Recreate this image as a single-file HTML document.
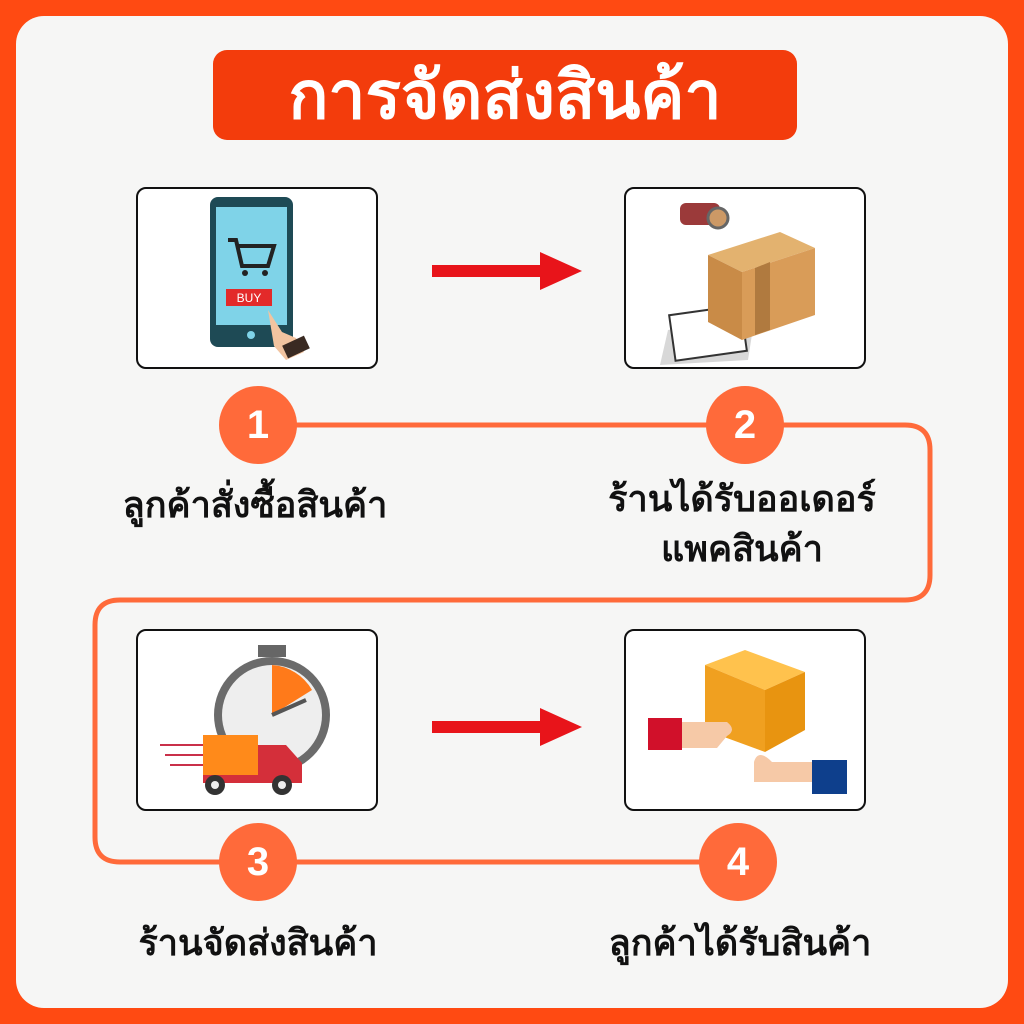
<!DOCTYPE html>
<html><head><meta charset="utf-8">
<style>
html,body{margin:0;padding:0;}
body{width:1024px;height:1024px;background:#FF4A12;position:relative;overflow:hidden;font-family:"Liberation Sans","DejaVu Sans",sans-serif;}
.panel{position:absolute;left:16px;top:16px;width:992px;height:992px;background:#F6F6F5;border-radius:28px;}
.title{position:absolute;left:213px;top:50px;width:584px;height:90px;background:#F33C0C;border-radius:14px;color:#fff;font-weight:bold;font-size:66px;text-align:center;line-height:90px;}
.box{position:absolute;width:238px;height:178px;border:2px solid #111;border-radius:10px;background:#fff;}
.circ{position:absolute;width:78px;height:78px;border-radius:50%;background:#FF6A3A;color:#fff;font-weight:bold;font-size:40px;text-align:center;line-height:78px;}
.lbl{position:absolute;width:400px;text-align:center;font-weight:bold;font-size:36px;color:#111;line-height:50px;}
svg{position:absolute;left:0;top:0;}
</style></head><body>
<div class="panel"></div>
<svg width="1024" height="1024">
<path d="M258 425 H905 Q930 425 930 450 V575 Q930 600 905 600 H120 Q95 600 95 625 V837 Q95 862 120 862 H738" fill="none" stroke="#FF6A3A" stroke-width="5"/>
</svg>
<div class="title">การจัดส่งสินค้า</div>
<div class="box" style="left:136px;top:187px"></div>
<div class="box" style="left:624px;top:187px"></div>
<div class="box" style="left:136px;top:629px"></div>
<div class="box" style="left:624px;top:629px"></div>
<svg width="1024" height="1024">
<rect x="432" y="265" width="115" height="12" fill="#E8141A"/>
<polygon points="540,252 582,271 540,290" fill="#E8141A"/>
<rect x="432" y="721" width="115" height="12" fill="#E8141A"/>
<polygon points="540,708 582,727 540,746" fill="#E8141A"/>
<rect x="210" y="197" width="83" height="150" rx="8" fill="#1E4A55"/>
<rect x="216" y="207" width="71" height="118" fill="#7FD3E8"/>
<path d="M228 240 h8 l6 26 h26 l6-20 h-36" fill="none" stroke="#222" stroke-width="4"/>
<circle cx="245" cy="273" r="3" fill="#222"/><circle cx="265" cy="273" r="3" fill="#222"/>
<rect x="226" y="289" width="46" height="17" fill="#E32A2A"/>
<text x="249" y="302" font-size="12" fill="#fff" text-anchor="middle" font-family="Liberation Sans">BUY</text>
<circle cx="251" cy="335" r="4" fill="#7FD3E8"/>
<path d="M268 310 l14 22 l14 6 l8 14 l-18 8 l-12 -14 z" fill="#F2C4A0"/>
<rect x="284" y="340" width="24" height="14" fill="#3A2A22" transform="rotate(-25 296 347)"/>
<polygon points="668,330 755,315 748,360 660,365" fill="#D8D8D8"/>
<rect x="672" y="310" width="72" height="46" fill="#fff" stroke="#333" stroke-width="2" transform="rotate(-8 708 333)"/>
<polygon points="708,255 780,232 815,248 742,272" fill="#E3B26F"/>
<polygon points="708,255 742,272 742,340 708,322" fill="#C98B47"/>
<polygon points="742,272 815,248 815,315 742,340" fill="#D99C58"/>
<polygon points="755,268 770,262 770,330 755,335" fill="#B07A3F"/>
<rect x="680" y="203" width="40" height="22" rx="6" fill="#9B3A3A"/>
<circle cx="718" cy="218" r="10" fill="#CC9966" stroke="#666" stroke-width="3"/>
<rect x="258" y="645" width="28" height="12" fill="#666"/>
<circle cx="272" cy="715" r="58" fill="#6B6B6B"/>
<circle cx="272" cy="715" r="50" fill="#EEE"/>
<path d="M272 715 V665 A50 50 0 0 1 312 690 Z" fill="#FF7A1A"/>
<line x1="272" y1="715" x2="306" y2="700" stroke="#555" stroke-width="4"/>
<line x1="160" y1="745" x2="205" y2="745" stroke="#C9304A" stroke-width="2"/>
<line x1="165" y1="755" x2="205" y2="755" stroke="#C9304A" stroke-width="2"/>
<line x1="170" y1="765" x2="205" y2="765" stroke="#C9304A" stroke-width="2"/>
<rect x="203" y="735" width="55" height="40" fill="#FF8A1A"/>
<path d="M258 745 h28 l16 18 v20 h-99 v-8 h55 z" fill="#D42F3A"/>
<circle cx="215" cy="785" r="10" fill="#333"/><circle cx="215" cy="785" r="4" fill="#EEE"/>
<circle cx="282" cy="785" r="10" fill="#333"/><circle cx="282" cy="785" r="4" fill="#EEE"/>
<polygon points="705,665 745,650 805,672 765,690" fill="#FFC24D"/>
<polygon points="705,665 765,690 765,752 705,730" fill="#F0A020"/>
<polygon points="765,690 805,672 805,730 765,752" fill="#E89410"/>
<rect x="648" y="718" width="34" height="32" fill="#D1102A"/>
<path d="M682 722 h45 q10 8 0 14 l-10 12 h-35 z" fill="#F6C9A7"/>
<path d="M812 762 h-40 q-14 -14 -18 0 v20 h58 z" fill="#F6C9A7"/>
<rect x="812" y="760" width="35" height="34" fill="#0E3F8C"/>
</svg>
<div class="circ" style="left:219px;top:386px">1</div>
<div class="circ" style="left:706px;top:386px">2</div>
<div class="circ" style="left:219px;top:823px">3</div>
<div class="circ" style="left:699px;top:823px">4</div>
<div class="lbl" style="left:55px;top:480px">ลูกค้าสั่งซื้อสินค้า</div>
<div class="lbl" style="left:542px;top:474px">ร้านได้รับออเดอร์<br>แพคสินค้า</div>
<div class="lbl" style="left:58px;top:918px">ร้านจัดส่งสินค้า</div>
<div class="lbl" style="left:540px;top:918px">ลูกค้าได้รับสินค้า</div>
</body></html>
